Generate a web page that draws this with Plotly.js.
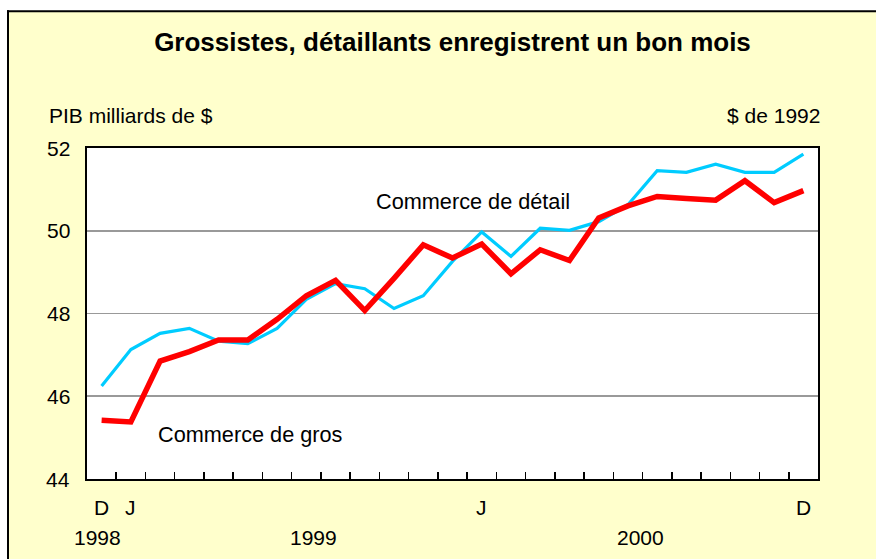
<!DOCTYPE html>
<html>
<head>
<meta charset="utf-8">
<script src="https://cdn.plot.ly/plotly-3.0.1.min.js"></script>
<style>
  html, body { margin: 0; padding: 0; background: #ffffff; }
  #chart { width: 876px; height: 559px; }
</style>
</head>
<body>
<div id="chart"></div>
<script>
// ---- data ----
const monthIndex = [0,1,2,3,4,5,6,7,8,9,10,11,12,13,14,15,16,17,18,19,20,21,22,23,24];
const retail = [46.25,47.13,47.52,47.64,47.33,47.27,47.64,48.34,48.72,48.60,48.12,48.43,49.26,49.97,49.38,50.06,50.01,50.22,50.63,51.45,51.41,51.61,51.41,51.41,51.85];
const wholesale = [45.42,45.38,46.85,47.08,47.36,47.36,47.86,48.43,48.80,48.07,48.85,49.66,49.34,49.68,48.96,49.54,49.28,50.31,50.60,50.83,50.78,50.74,51.21,50.68,50.97];
const monthLabels = ['D','J','J','D'];
const monthLabelPos = [0,1,13,24];
const yearLabels = ['1998','1999','2000'];
const yearLabelPos = [-0.14,7.26,18.44];
const yTicks = [44,46,48,50,52];
const seriesNames = ['Commerce de détail','Commerce de gros'];

// ---- layout helpers (pixel -> paper) ----
const W = 876, H = 559;
const L = 87, R = 818, T = 148, B = 479.5;
const px = x => (x - L) / (R - L);
const py = y => (B - y) / (B - T);
const FONT = 'Arial, "Liberation Sans", sans-serif';

const boundaries = monthIndex.slice(0, -1).map(i => i + 0.5);

const traces = [
  { x: monthIndex, y: retail, type: 'scatter', mode: 'lines', name: seriesNames[0],
    line: { color: '#00CCFF', width: 3.2 }, hoverinfo: 'skip' },
  { x: monthIndex, y: wholesale, type: 'scatter', mode: 'lines', name: seriesNames[1],
    line: { color: '#FF0000', width: 5.5 }, hoverinfo: 'skip' }
];

const annotations = [];
annotations.push({ text: 'PIB milliards de $', xref: 'paper', yref: 'paper', x: px(47), y: py(115),
  xanchor: 'left', yanchor: 'middle', showarrow: false, font: { family: FONT, size: 21, color: '#000' } });
annotations.push({ text: '$ de 1992', xref: 'paper', yref: 'paper', x: px(822), y: py(115),
  xanchor: 'right', yanchor: 'middle', showarrow: false, font: { family: FONT, size: 21, color: '#000' } });
annotations.push({ text: seriesNames[0], xref: 'x', yref: 'y', x: 9.3, y: 50.71,
  xanchor: 'left', yanchor: 'middle', showarrow: false, font: { family: FONT, size: 21.7, color: '#000' } });
annotations.push({ text: seriesNames[1], xref: 'x', yref: 'y', x: 1.86, y: 45.08,
  xanchor: 'left', yanchor: 'middle', showarrow: false, font: { family: FONT, size: 21.7, color: '#000' } });
monthLabels.forEach((t, i) => annotations.push({ text: t, xref: 'x', yref: 'paper', x: monthLabelPos[i], y: py(508),
  xanchor: 'center', yanchor: 'middle', showarrow: false, font: { family: FONT, size: 21, color: '#000' } }));
yearLabels.forEach((t, i) => annotations.push({ text: t, xref: 'x', yref: 'paper', x: yearLabelPos[i], y: py(538),
  xanchor: 'center', yanchor: 'middle', showarrow: false, font: { family: FONT, size: 21, color: '#000' } }));
// y tick labels
yTicks.forEach(v => annotations.push({ text: String(v), xref: 'paper', yref: 'y', x: px(72), y: v,
  xanchor: 'right', yanchor: 'middle', showarrow: false, font: { family: FONT, size: 21, color: '#000' } }));

const shapes = [
  // white strips outside the outer frame
  { type: 'rect', xref: 'paper', yref: 'paper', x0: px(-5), x1: px(8), y0: py(H + 5), y1: py(-5),
    fillcolor: '#ffffff', line: { width: 0 }, layer: 'above' },
  { type: 'rect', xref: 'paper', yref: 'paper', x0: px(-5), x1: px(W + 5), y0: py(11), y1: py(-5),
    fillcolor: '#ffffff', line: { width: 0 }, layer: 'above' },
  // outer frame lines
  { type: 'line', xref: 'paper', yref: 'paper', x0: px(8), x1: px(8), y0: py(10), y1: py(H + 5),
    line: { color: '#000', width: 2 }, layer: 'above' },
  { type: 'line', xref: 'paper', yref: 'paper', x0: px(7), x1: px(W + 5), y0: py(11), y1: py(11),
    line: { color: '#000', width: 2 }, layer: 'above' }
];

const layout = {
  width: W, height: H,
  margin: { l: L, r: W - R, t: T, b: H - B, pad: 0 },
  paper_bgcolor: '#FFFFCC',
  plot_bgcolor: '#FFFFFF',
  showlegend: false,
  title: { text: '<b>Grossistes, détaillants enregistrent un bon mois</b>',
    font: { family: FONT, size: 26, color: '#000' },
    x: 0.5, xref: 'paper', xanchor: 'center', y: 1 - 42 / H, yref: 'container', yanchor: 'middle' },
  xaxis: {
    range: [-0.5, 24.5], showgrid: false, zeroline: false,
    tickmode: 'array', tickvals: boundaries, ticks: 'inside', ticklen: 7, tickwidth: 1.5, tickcolor: '#000',
    showticklabels: false, showline: true, mirror: true, linecolor: '#000', linewidth: 2, fixedrange: true
  },
  yaxis: {
    range: [44, 52], tickmode: 'array', tickvals: yTicks,
    showgrid: true, gridcolor: '#999999', gridwidth: 1.7, zeroline: false,
    ticks: '', showticklabels: false,
    showline: true, mirror: true, linecolor: '#000', linewidth: 2, fixedrange: true
  },
  annotations: annotations,
  shapes: shapes
};

Plotly.newPlot('chart', traces, layout, { displayModeBar: false, staticPlot: true });
</script>
</body>
</html>
